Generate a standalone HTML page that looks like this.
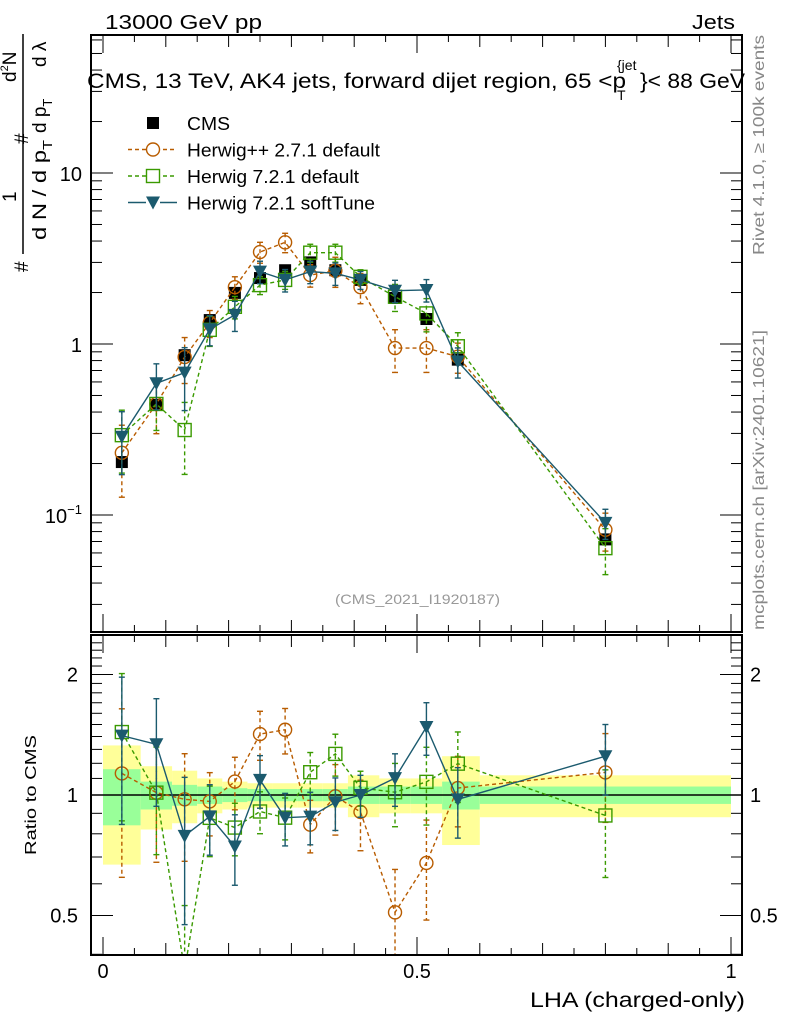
<!DOCTYPE html>
<html><head><meta charset="utf-8"><style>
body{margin:0;background:#fff}
svg{display:block;font-family:"Liberation Sans",sans-serif}
</style></head><body>
<svg id="c" width="786" height="1024" xmlns="http://www.w3.org/2000/svg">
<g id="bands"></g>
<g id="marks"></g>
<g id="axes"></g>
<text x="105" y="29" font-size="20" textLength="157" lengthAdjust="spacingAndGlyphs">13000 GeV pp</text>
<text x="692" y="29" font-size="20" textLength="43" lengthAdjust="spacingAndGlyphs">Jets</text>
<g>
<text x="87" y="88" font-size="21" textLength="539" lengthAdjust="spacingAndGlyphs">CMS, 13 TeV, AK4 jets, forward dijet region, 65 &lt;p</text>
<text x="617" y="100" font-size="14">T</text>
<text x="617" y="70" font-size="14">{jet</text>
<text x="640" y="88" font-size="21" textLength="105" lengthAdjust="spacingAndGlyphs">}&lt; 88 GeV</text>
</g>
<g transform="translate(0,270) rotate(-90)" font-size="19">
<text x="-2" y="28">#</text>
<text x="30" y="46" textLength="100" lengthAdjust="spacingAndGlyphs">d N / d p<tspan font-size="13" dy="6">T</tspan></text>
<line x1="16" y1="23" x2="236" y2="23" stroke="#000" stroke-width="1.5"/>
<text x="68" y="16">1</text>
<text x="126" y="28">#</text>
<text x="137" y="46">d p<tspan font-size="13" dy="6">T</tspan></text>
<text x="188" y="16">d<tspan font-size="11" dy="-8">2</tspan><tspan dy="8">N</tspan></text>
<text x="203" y="46">d λ</text>
</g>
<text transform="translate(764,255) rotate(-90)" font-size="16" fill="#888" textLength="220" lengthAdjust="spacingAndGlyphs">Rivet 4.1.0, ≥ 100k events</text>
<text transform="translate(764,630) rotate(-90)" font-size="16" fill="#888" textLength="300" lengthAdjust="spacingAndGlyphs">mcplots.cern.ch [arXiv:2401.10621]</text>
<text x="335" y="604" font-size="14" fill="#999" textLength="165" lengthAdjust="spacingAndGlyphs">(CMS_2021_I1920187)</text>
<text transform="translate(36,855) rotate(-90)" font-size="16" textLength="120" lengthAdjust="spacingAndGlyphs">Ratio to CMS</text>
<text x="530" y="1007" font-size="21" textLength="215" lengthAdjust="spacingAndGlyphs">LHA (charged-only)</text>
<g id="legend"></g>
</svg>
<script>
const xCenters=[0.03,0.085,0.13,0.17,0.21,0.25,0.29,0.33,0.37,0.41,0.465,0.515,0.565,0.8];
const binEdges=[0,0.06,0.11,0.15,0.19,0.23,0.27,0.31,0.35,0.39,0.44,0.49,0.54,0.6,1.0];
const cmsVals=[0.204,0.44,0.86,1.38,1.99,2.43,2.7,3.0,2.7,2.37,1.86,1.40,0.81,0.072];
const hppVals=[0.231,0.446,0.839,1.33,2.15,3.45,3.93,2.53,2.68,2.15,0.947,0.947,0.843,0.082];
const h72Vals=[0.293,0.446,0.314,1.21,1.65,2.21,2.37,3.42,3.42,2.47,1.89,1.51,0.97,0.064];
const softVals=[0.287,0.589,0.68,1.22,1.48,2.65,2.37,2.65,2.59,2.37,2.05,2.07,0.79,0.09];
const hppErr=[0.45,0.33,0.3,0.18,0.15,0.14,0.13,0.15,0.2,0.2,0.28,0.28,0.2,0.25];
const h72Err=[0.4,0.3,0.45,0.2,0.15,0.12,0.12,0.12,0.12,0.1,0.18,0.22,0.2,0.3];
const softErr=[0.4,0.3,0.4,0.2,0.2,0.15,0.15,0.15,0.15,0.12,0.15,0.15,0.2,0.2];
const totUnc=[0.33,0.18,0.15,0.1,0.08,0.07,0.07,0.07,0.07,0.12,0.1,0.1,0.25,0.12];
const statUnc=[0.16,0.08,0.06,0.05,0.04,0.035,0.035,0.035,0.035,0.05,0.05,0.05,0.08,0.05];
const mainTicks=[[0.1,"10"],[1,"1"],[10,"10"]];
const ratioTicks=[[0.5,"0.5"],[1,"1"],[2,"2"]];
const xTicks=[[0,"0"],[0.5,"0.5"],[1,"1"]];

const NS="http://www.w3.org/2000/svg";
const L=91,R=742,T=35,MB=632,RT=635,RB=955;
const X=v=>103+v*628;
const Y=v=>344-Math.log10(v)*171;
const YR=v=>795-Math.log2(v)*120.5;
function mk(tag,attrs,parent){const e=document.createElementNS(NS,tag);for(const k in attrs)e.setAttribute(k,attrs[k]);parent.appendChild(e);return e;}
const bands=document.getElementById('bands'),marks=document.getElementById('marks'),axes=document.getElementById('axes'),legend=document.getElementById('legend');

for(let i=0;i<cmsVals.length;i++){
  const x0=X(binEdges[i]),x1=X(binEdges[i+1]);
  const y=mk('rect',{x:x0,y:YR(1+totUnc[i]),width:x1-x0,height:YR(1-totUnc[i])-YR(1+totUnc[i]),fill:'#ffff99'},bands);
  
  
  const g=mk('rect',{x:x0,y:YR(1+statUnc[i]),width:x1-x0,height:YR(1-statUnc[i])-YR(1+statUnc[i]),fill:'#99ff99'},bands);
  
  
}
mk('line',{x1:L,x2:R,y1:YR(1),y2:YR(1),stroke:'#000','stroke-width':1.5},bands);

function clip(id,y0,y1){const d=mk('clipPath',{id:id},marks);mk('rect',{x:L,y:y0,width:R-L,height:y1-y0},d);}
clip('cm',T,MB);clip('cr',RT,RB);
const gm=mk('g',{'clip-path':'url(#cm)'},marks);
const gr=mk('g',{'clip-path':'url(#cr)'},marks);

function marker(type,x,y,col,p){
  let e;
  if(type==='sq')e=mk('rect',{x:x-6,y:y-6,width:12,height:12,fill:'#000'},p);
  if(type==='circ')e=mk('circle',{cx:x,cy:y,r:6.5,fill:'none',stroke:col,'stroke-width':1.4},p);
  if(type==='osq')e=mk('rect',{x:x-6.5,y:y-6.5,width:13,height:13,fill:'none',stroke:col,'stroke-width':1.4},p);
  if(type==='tri')e=mk('path',{d:`M${x-7},${y-6}L${x+7},${y-6}L${x},${y+7}Z`,fill:col},p);
  return e;
}
function series(vals,errs,col,dash,type,name,p,yf,ratio){
  const pts=vals.map((v,i)=>[X(xCenters[i]),yf(ratio?v/cmsVals[i]:v)]);
  const pl=mk('polyline',{points:pts.map(q=>q.join(',')).join(' '),fill:'none',stroke:col,'stroke-width':1.4,'stroke-dasharray':dash},p);
  
  
  vals.forEach((v,i)=>{
    const c=ratio?v/cmsVals[i]:v,x=pts[i][0];
    const y1=yf(c*(1+errs[i])),y2=yf(Math.max(c*(1-errs[i]),1e-3));
    mk('line',{x1:x,x2:x,y1:y1,y2:y2,stroke:col,'stroke-width':1.4,'stroke-dasharray':dash},p);
    mk('line',{x1:x-3,x2:x+3,y1:y1,y2:y1,stroke:col,'stroke-width':1.4},p);
    mk('line',{x1:x-3,x2:x+3,y1:y2,y2:y2,stroke:col,'stroke-width':1.4},p);
    const m=marker(type,x,pts[i][1],col,p);
    
    
  });
}
cmsVals.forEach((v,i)=>{
  const x=X(xCenters[i]);
  mk('line',{x1:x,x2:x,y1:Y(v*(1+totUnc[i]*0.5)),y2:Y(v*(1-totUnc[i]*0.5)),stroke:'#000','stroke-width':1.4},gm);
  const m=marker('sq',x,Y(v),'#000',gm);
  
  
});
const OR='#b85c00',GR='#3a9a00',BL='#1b5a6e';
series(hppVals,hppErr,OR,'4,3','circ','herwigpp',gm,Y,false);
series(h72Vals,h72Err,GR,'4,3','osq','herwig721',gm,Y,false);
series(softVals,softErr,BL,'','tri','herwig721-softtune',gm,Y,false);
series(hppVals,hppErr,OR,'4,3','circ','herwigpp-ratio',gr,YR,true);
series(h72Vals,h72Err,GR,'4,3','osq','herwig721-ratio',gr,YR,true);
series(softVals,softErr,BL,'','tri','herwig721-softtune-ratio',gr,YR,true);

mk('rect',{x:L,y:T,width:R-L,height:MB-T,fill:'none',stroke:'#000','stroke-width':2},axes);
mk('rect',{x:L,y:RT,width:R-L,height:RB-RT,fill:'none',stroke:'#000','stroke-width':2},axes);
for(let k=0;k<=20;k++){const v=k*0.05,x=X(v),len=(k%10===0)?18:(k%2===0?12:7);
  [[T,1],[MB,-1],[RT,1],[RB,-1]].forEach(([y,s])=>mk('line',{x1:x,x2:x,y1:y,y2:y+s*len,stroke:'#000','stroke-width':1},axes));}
xTicks.forEach(([v,t])=>{const e=mk('text',{x:X(v),y:978,'font-size':20,'text-anchor':'middle'},axes);e.textContent=t;
  
  });
for(let d=-2;d<=1;d++)for(let m=1;m<=9;m++){const v=m*Math.pow(10,d),y=Y(v);if(y<T||y>MB)continue;const len=m===1?22:11;
  mk('line',{x1:L,x2:L+len,y1:y,y2:y,stroke:'#000'},axes);mk('line',{x1:R,x2:R-len,y1:y,y2:y,stroke:'#000'},axes);}
mainTicks.forEach(([v,t])=>{const y=Y(v);const e=mk('text',{x:82,y:y+8,'font-size':20,'text-anchor':'end'},axes);
  if(v===0.1){e.textContent='10';const s=mk('tspan',{'font-size':13,dy:-9},e);s.textContent='−1';}else e.textContent=t;
  
  });
for(let v=0.4;v<=2.5;v+=0.1){const y=YR(v);if(y<RT||y>RB)continue;const big=Math.abs(v-0.5)<1e-6||Math.abs(v-1)<1e-6||Math.abs(v-2)<1e-6;const len=big?22:11;
  mk('line',{x1:L,x2:L+len,y1:y,y2:y,stroke:'#000'},axes);mk('line',{x1:R,x2:R-len,y1:y,y2:y,stroke:'#000'},axes);}
ratioTicks.forEach(([v,t])=>{const y=YR(v);
  const a=mk('text',{x:78,y:y+7,'font-size':20,'text-anchor':'end'},axes);a.textContent=t;
  
  
  const b=mk('text',{x:750,y:y+7,'font-size':20},axes);b.textContent=t;
  
  });
const legNames=['CMS','Herwig++ 2.7.1 default','Herwig 7.2.1 default','Herwig 7.2.1 softTune'];
const legLens=[43,193,172,188];
const legCols=['#000',OR,GR,BL],legTypes=['sq','circ','osq','tri'],legDash=['','4,3','4,3',''];
legNames.forEach((n,i)=>{const y=123+i*26.5;
  const g=mk('g',{},legend);
  
  
  if(i>0)mk('line',{x1:128,x2:177,y1:y,y2:y,stroke:legCols[i],'stroke-width':1.4,'stroke-dasharray':legDash[i]},g);
  if(i>0)mk('rect',{x:146,y:y-7,width:14,height:14,fill:'#fff'},g);
  marker(legTypes[i],153,y,legCols[i],g);
  const t=mk('text',{x:187,y:y+7,'font-size':18,textLength:legLens[i],lengthAdjust:'spacingAndGlyphs'},g);t.textContent=n;});
</script>
</body></html>
